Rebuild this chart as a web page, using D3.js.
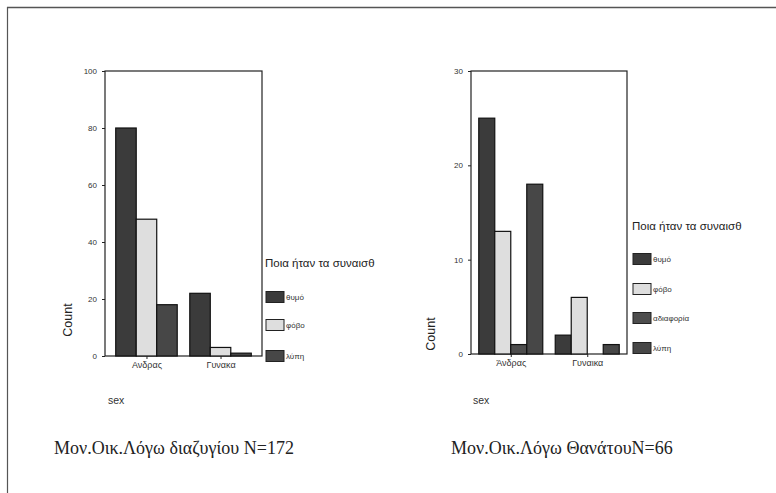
<!DOCTYPE html>
<html><head><meta charset="utf-8">
<script src="https://cdn.jsdelivr.net/npm/d3@7"></script>
<style>body{margin:0;background:#fff}svg{display:block}</style>
</head><body><svg id="c" width="776" height="493"></svg>
<script>
// ---- data ----
const sexLeft = ["Ανδρας", "Γυνακα"];
const feelingsLeft = ["θυμό", "φόβο", "λύπη"];
const valuesLeft = { "θυμό": [80, 22], "φόβο": [48, 3], "λύπη": [18, 1] };
const ticksLeft = [0, 20, 40, 60, 80, 100];

const sexRight = ["Άνδρας", "Γυναικα"];
const feelingsRight = ["θυμό", "φόβο", "αδιαφορία", "λύπη"];
const valuesRight = { "θυμό": [25, 2], "φόβο": [13, 6], "αδιαφορία": [1, 0], "λύπη": [18, 1] };
const ticksRight = [0, 10, 20, 30];

const legendTitle = "Ποια ήταν τα συναισθ";
const captionLeft = "Μον.Οικ.Λόγω διαζυγίου N=172";
const captionRight = "Μον.Οικ.Λόγω ΘανάτουN=66";

const fills = { "θυμό": "#3b3b3b", "φόβο": "#dedede", "λύπη": "#474747", "αδιαφορία": "#4d4d4d" };

const svg = d3.select("#c");
// outer frame (top + left edges visible)
svg.append("line").attr("x1",7).attr("x2",776).attr("y1",7.5).attr("y2",7.5).attr("stroke","#555").attr("stroke-width",1.5);
svg.append("line").attr("x1",7.5).attr("x2",7.5).attr("y1",7).attr("y2",493).attr("stroke","#555").attr("stroke-width",1.2);

function chart(o) {
  const g = svg.append("g");
  const y = d3.scaleLinear().domain([0, o.max]).range([o.y1, o.y0]);
  const x = d3.scalePoint().domain(o.cats).range([o.x0, o.x1]).padding(o.pad);
  const inner = d3.scaleBand().domain(o.series).range([-o.gw/2, o.gw/2]).padding(0);

  // frame
  g.append("rect").attr("x", o.x0).attr("y", o.y0).attr("width", o.x1 - o.x0).attr("height", o.y1 - o.y0)
    .attr("fill", "none").attr("stroke", "#222").attr("stroke-width", 1.2);

  // bars
  o.series.forEach(s => {
    g.selectAll(null).data(o.cats).enter().append("rect")
      .attr("x", (c) => x(c) + inner(s))
      .attr("width", inner.bandwidth())
      .attr("y", (c, i) => y(o.values[s][i]))
      .attr("height", (c, i) => y(0) - y(o.values[s][i]))
      .attr("fill", fills[s]).attr("stroke", "#111").attr("stroke-width", 1.2);
  });

  // y axis
  const ya = g.append("g").attr("transform", `translate(${o.x0},0)`)
    .call(d3.axisLeft(y).tickValues(o.ticks).tickSize(3).tickPadding(5));
  ya.select(".domain").remove();
  ya.selectAll("text").attr("font-family", "Arial, 'Liberation Sans', sans-serif").attr("font-size", 8).attr("fill", "#333");
  ya.selectAll("line").attr("stroke", "#222");

  // x axis
  const xa = g.append("g").attr("transform", `translate(0,${o.y1})`)
    .call(d3.axisBottom(x).tickSize(3).tickPadding(3));
  xa.select(".domain").remove();
  xa.selectAll("text").attr("font-family", "Arial, 'Liberation Sans', sans-serif").attr("font-size", 9).attr("fill", "#333");
  xa.selectAll("line").attr("stroke", "#222");

  // Count label
  g.append("text").attr("transform", `translate(${o.countX},${o.countY}) rotate(-90)`)
    .attr("text-anchor", "middle").attr("font-family", "Arial, 'Liberation Sans', sans-serif")
    .attr("font-size", 12.5).attr("fill", "#222").text("Count");

  // sex label
  g.append("text").attr("x", o.sexX).attr("y", 404).attr("font-family", "Arial, 'Liberation Sans', sans-serif")
    .attr("font-size", 10.5).attr("fill", "#333").text("sex");

  // legend
  g.append("text").attr("x", o.lx).attr("y", o.ltY).attr("font-family", "Arial, 'Liberation Sans', sans-serif")
    .attr("font-size", 11.5).attr("fill", "#222").text(legendTitle);
  o.series.forEach((s, i) => {
    const cy = o.lRows[i];
    g.append("rect").attr("x", o.lx + 1).attr("y", cy - 5.5).attr("width", 18).attr("height", 11)
      .attr("fill", fills[s]).attr("stroke", "#222").attr("stroke-width", 1);
    g.append("text").attr("x", o.lx + 21).attr("y", cy + 3).attr("font-family", "Arial, 'Liberation Sans', sans-serif")
      .attr("font-size", 8).attr("fill", "#333").text(s);
  });

  // caption
  g.append("text").attr("x", o.capX).attr("y", 454).attr("font-family", "'Liberation Serif', 'DejaVu Serif', serif")
    .attr("font-size", 18).attr("fill", "#222").text(o.caption);
}

chart({ cats: sexLeft, series: feelingsLeft, values: valuesLeft, ticks: ticksLeft, max: 100,
  x0: 105, x1: 262, y0: 71, y1: 356, pad: 0.56, gw: 61.5,
  countX: 72, countY: 320, sexX: 108, lx: 265, ltY: 267, lRows: [297, 325, 356],
  capX: 54, caption: captionLeft });

chart({ cats: sexRight, series: feelingsRight, values: valuesRight, ticks: ticksRight, max: 30,
  x0: 471, x1: 627, y0: 71, y1: 354, pad: 0.52, gw: 64,
  countX: 435, countY: 334, sexX: 473, lx: 632, ltY: 230, lRows: [259, 289, 318, 348],
  capX: 451, caption: captionRight });
</script></body></html>
